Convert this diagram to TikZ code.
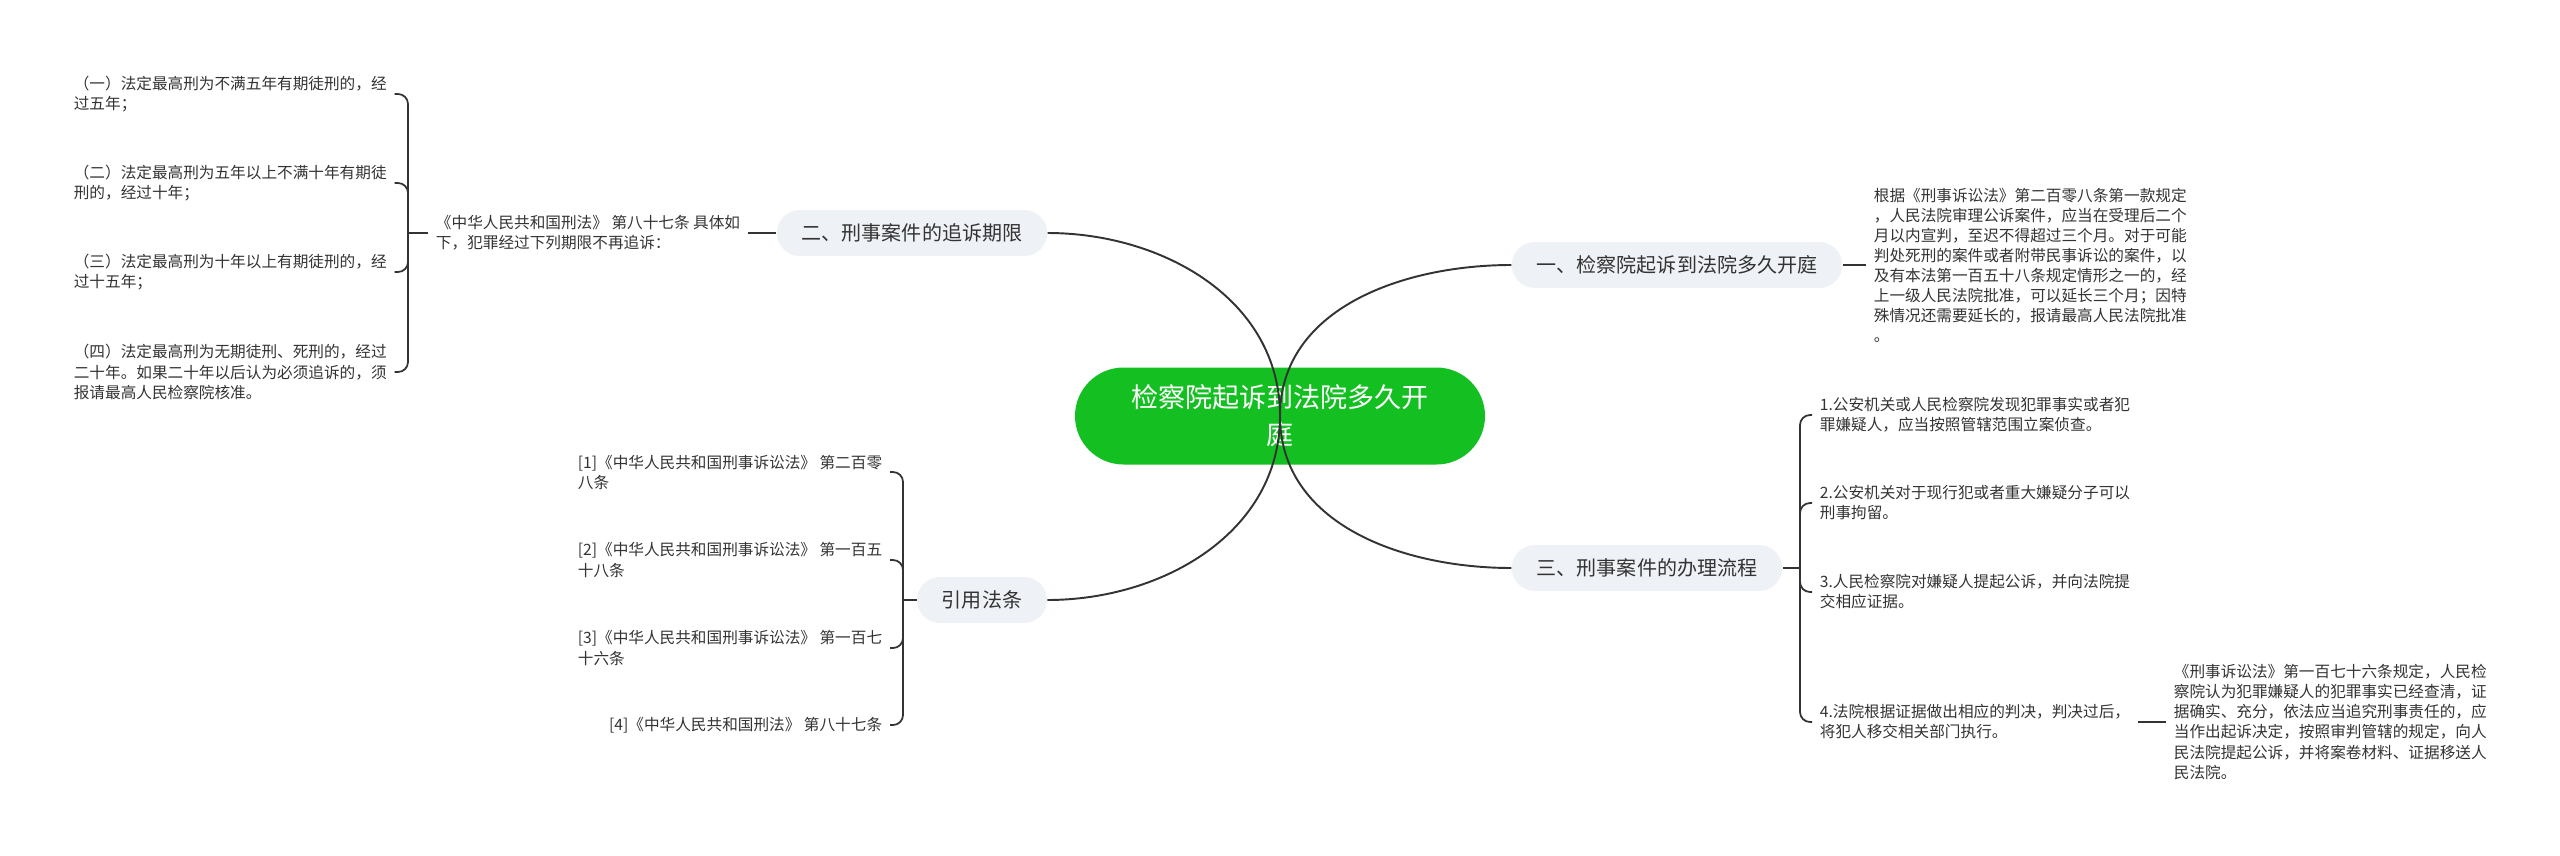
\documentclass[tikz,border=0pt]{standalone}
\usepackage{fontspec}
\setmainfont{Noto Sans CJK SC}
\usepackage{xcolor}
\usepackage{tikz}
\usetikzlibrary{calc}

\definecolor{rootgreen}{RGB}{20,192,33}
\definecolor{topicgray}{RGB}{238,241,245}
\definecolor{ink}{RGB}{51,51,51}

\begin{document}
\begin{tikzpicture}[
    font=\fontsize{8.9pt}{11.4pt}\selectfont,
    rootbox/.style={fill=rootgreen, text=white, rounded corners=0.97cm, minimum width=8.2cm, minimum height=1.94cm, align=center, font=\fontsize{15.4pt}{21pt}\selectfont},
    topicbox/.style={fill=topicgray, text=ink, rounded corners=0.46cm, minimum height=0.92cm, inner xsep=0.5cm, font=\fontsize{11.4pt}{13pt}\selectfont},
    leafbox/.style={text=ink, align=left, inner xsep=0.15cm, inner ysep=0.05cm},
    mapcurve/.style={draw=ink, line width=1.1pt},
    maplink/.style={draw=ink, line width=1pt},
    maphook/.style={maplink, rounded corners=0.2cm}
]
\useasboundingbox (0,0) rectangle (51.2,-17.12);

% centre and main topics
\node[rootbox] (root) at (25.6,-8.32) {检察院起诉到法院多久开\\庭};
\node[topicbox] (t1) at (33.54,-5.3) {一、检察院起诉到法院多久开庭};
\node[topicbox] (t2) at (18.24,-4.66) {二、刑事案件的追诉期限};
\node[topicbox] (t3) at (32.94,-11.36) {三、刑事案件的办理流程};
\node[topicbox] (t4) at (19.64,-12.0) {引用法条};

% topic one
\node[leafbox, anchor=west] (p1) at (37.32,-5.3) {根据《刑事诉讼法》第二百零八条第一款规定\\，人民法院审理公诉案件，应当在受理后二个\\月以内宣判，至迟不得超过三个月。对于可能\\判处死刑的案件或者附带民事诉讼的案件，以\\及有本法第一百五十八条规定情形之一的，经\\上一级人民法院批准，可以延长三个月；因特\\殊情况还需要延长的，报请最高人民法院批准\\。};

% topic two
\node[leafbox, anchor=east] (law) at (14.96,-4.66) {《中华人民共和国刑法》 第八十七条 具体如\\下，犯罪经过下列期限不再追诉：};
\coordinate (bar2) at (8.16,-4.66);
\node[leafbox, anchor=east] (a1) at (7.89,-1.88) {（一）法定最高刑为不满五年有期徒刑的，经\\过五年；};
\node[leafbox, anchor=east] (a2) at (7.89,-3.66) {（二）法定最高刑为五年以上不满十年有期徒\\刑的，经过十年；};
\node[leafbox, anchor=east] (a3) at (7.89,-5.44) {（三）法定最高刑为十年以上有期徒刑的，经\\过十五年；};
\node[leafbox, anchor=east] (a4) at (7.89,-7.44) {（四）法定最高刑为无期徒刑、死刑的，经过\\二十年。如果二十年以后认为必须追诉的，须\\报请最高人民检察院核准。};

% topic three
\coordinate (bar3) at (36.0,-11.36);
\node[leafbox, anchor=west] (c1) at (36.24,-8.3) {1.公安机关或人民检察院发现犯罪事实或者犯\\罪嫌疑人，应当按照管辖范围立案侦查。};
\node[leafbox, anchor=west] (c2) at (36.24,-10.06) {2.公安机关对于现行犯或者重大嫌疑分子可以\\刑事拘留。};
\node[leafbox, anchor=west] (c3) at (36.24,-11.84) {3.人民检察院对嫌疑人提起公诉，并向法院提\\交相应证据。};
\node[leafbox, anchor=west] (c4) at (36.24,-14.44) {4.法院根据证据做出相应的判决，判决过后，\\将犯人移交相关部门执行。};
\node[leafbox, anchor=west] (p2) at (43.32,-14.44) {《刑事诉讼法》第一百七十六条规定，人民检\\察院认为犯罪嫌疑人的犯罪事实已经查清，证\\据确实、充分，依法应当追究刑事责任的，应\\当作出起诉决定，按照审判管辖的规定，向人\\民法院提起公诉，并将案卷材料、证据移送人\\民法院。};

% cited laws
\coordinate (bar4) at (18.06,-12.0);
\node[leafbox, anchor=east] (r1) at (17.8,-9.44) {[1]《中华人民共和国刑事诉讼法》 第二百零\\八条};
\node[leafbox, anchor=east] (r2) at (17.8,-11.2) {[2]《中华人民共和国刑事诉讼法》 第一百五\\十八条};
\node[leafbox, anchor=east] (r3) at (17.8,-12.96) {[3]《中华人民共和国刑事诉讼法》 第一百七\\十六条};
\node[leafbox, anchor=east] (r4) at (17.8,-14.5) {[4]《中华人民共和国刑法》 第八十七条};

% connectors
\draw[mapcurve] (root.center) to[out=90,in=180] (t1.west);
\draw[mapcurve] (root.center) to[out=90,in=0] (t2.east);
\draw[mapcurve] (root.center) to[out=-90,in=180] (t3.west);
\draw[mapcurve] (root.center) to[out=-90,in=0] (t4.east);

\draw[maplink] (t1.east) -- (p1.west);
\draw[maplink] (t2.west) -- (law.east);
\draw[maplink] (law.west) -- (bar2);
\foreach \n in {a1,a2,a3,a4} \draw[maphook] (bar2) |- (\n.east);
\draw[maplink] (t3.east) -- (bar3);
\foreach \n in {c1,c2,c3,c4} \draw[maphook] (bar3) |- (\n.west);
\draw[maplink] (c4.east) -- (p2.west);
\draw[maplink] (t4.west) -- (bar4);
\foreach \n in {r1,r2,r3,r4} \draw[maphook] (bar4) |- (\n.east);
\end{tikzpicture}
\end{document}
